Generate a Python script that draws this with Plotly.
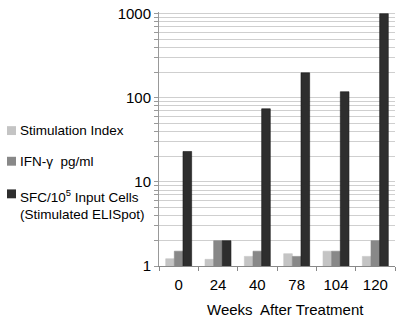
import plotly.graph_objects as go

weeks = ["0", "24", "40", "78", "104", "120"]
stim_index = [1.22, 1.2, 1.3, 1.4, 1.5, 1.3]
ifn_gamma = [1.5, 2.0, 1.5, 1.3, 1.5, 2.0]
sfc = [23, 2.0, 74, 198, 118, 1000]

series_names = ["Stimulation Index", "IFN-γ  pg/ml", "SFC/10<sup>5</sup> Input Cells<br>(Stimulated ELISpot)"]
colors = ["#c4c4c4", "#888888", "#2e2e2e"]

# plot area in pixels
L, R, T, B = 159, 5, 9, 53
W, H = 400, 319
PW, PH = W - L - R, H - T - B

def px2x(px):
    return (px - L) / PW

def py2y(py):
    return (H - B - py) / PH

fig = go.Figure()
for name, vals, col in zip(series_names, [stim_index, ifn_gamma, sfc], colors):
    fig.add_trace(go.Bar(
        x=weeks, y=vals, name=name,
        marker=dict(color=col, line=dict(color="#1a1a1a" if col == "#2e2e2e" else col, width=0.6)),
        showlegend=False,
    ))

tickvals = []
ticktext = []
for d in [1, 10, 100]:
    for k in range(1, 10):
        tickvals.append(d * k)
        ticktext.append(str(d) if k == 1 else "")
tickvals.append(1000)
ticktext.append("1000")

fig.update_layout(
    width=W, height=H,
    margin=dict(l=L, r=R, t=T, b=B),
    paper_bgcolor="white", plot_bgcolor="white",
    barmode="group", bargap=0.34, bargroupgap=0,
    font=dict(family="Liberation Sans, Arial, sans-serif", color="black"),
    xaxis=dict(
        type="category", tickson="boundaries", ticks="outside", ticklen=4,
        tickcolor="#888888", showline=True, linecolor="#888888", linewidth=1,
        tickfont=dict(size=15), ticklabelstandoff=5, showgrid=False,
    ),
    yaxis=dict(
        type="log", range=[0, 3.02], tickvals=tickvals, ticktext=ticktext,
        ticks="outside", ticklen=4, tickcolor="#999999",
        showline=True, linecolor="#999999", linewidth=1,
        showgrid=True, gridcolor="#cfcfcf", gridwidth=1,
        tickfont=dict(size=15), zeroline=False,
    ),
)

# legend drawn as text + swatches
legend_rows = [129, 160, 193]
for (name, col, yc) in zip(series_names, colors, legend_rows):
    fig.add_shape(type="rect", xref="paper", yref="paper",
                  x0=px2x(7), x1=px2x(16), y0=py2y(yc + 4.5), y1=py2y(yc - 4.5),
                  fillcolor=col, line=dict(width=0))
    if "<br>" in name:
        fig.add_annotation(xref="paper", yref="paper", x=px2x(18), y=py2y(yc - 9),
                           text=name, showarrow=False, xanchor="left", yanchor="top",
                           align="left", font=dict(size=13.5))
    else:
        fig.add_annotation(xref="paper", yref="paper", x=px2x(18), y=py2y(yc),
                           text=name, showarrow=False, xanchor="left", yanchor="middle",
                           align="left", font=dict(size=13.5))

fig.add_annotation(xref="paper", yref="paper", x=px2x(285), y=py2y(310),
                   text="Weeks  After Treatment", showarrow=False,
                   xanchor="center", yanchor="middle", font=dict(size=15))

fig.write_html("out.html", config={"displayModeBar": False},
               post_script="document.body.style.margin='0';document.body.style.padding='0';")
